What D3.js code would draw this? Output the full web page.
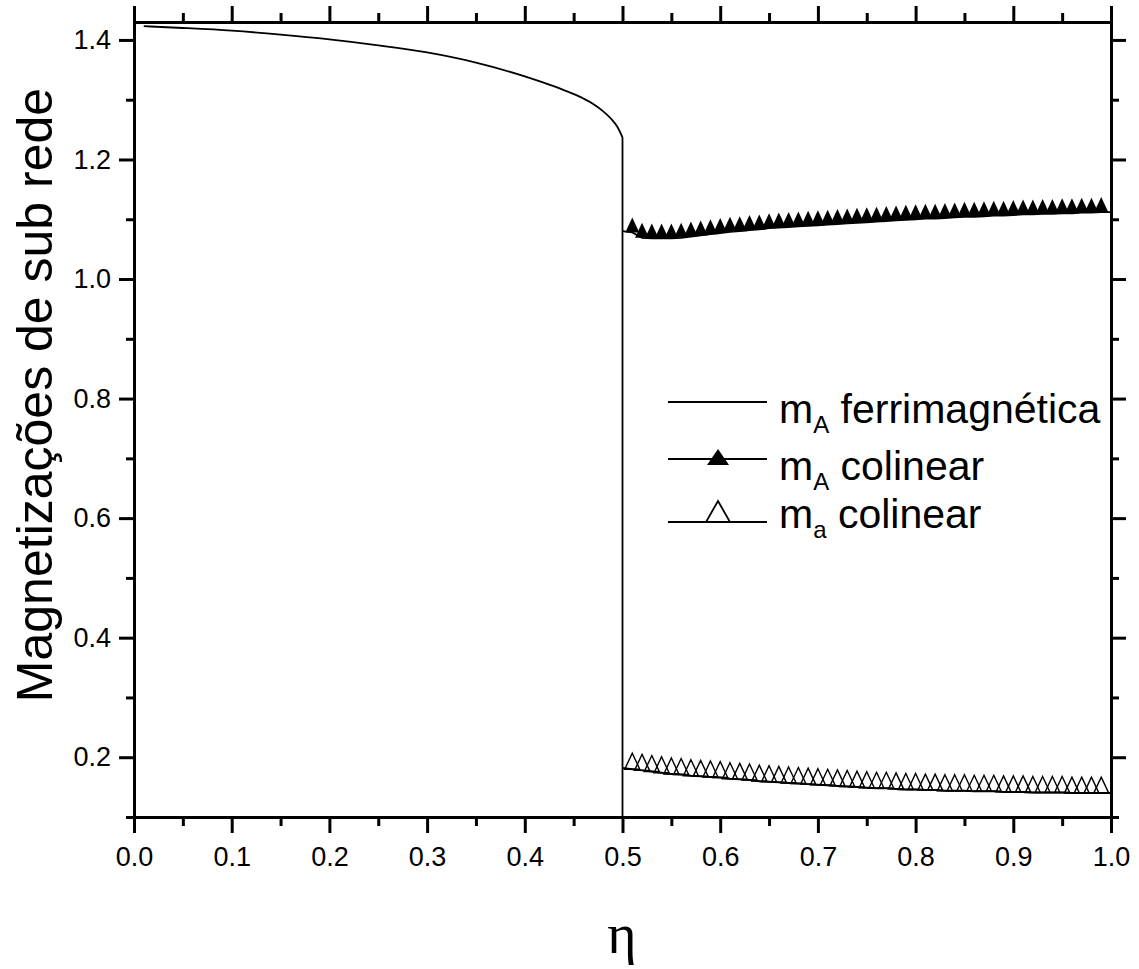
<!DOCTYPE html>
<html>
<head>
<meta charset="utf-8">
<script src="https://cdn.jsdelivr.net/npm/d3@7"></script>
<style>
  body { margin: 0; background: #fff; }
  text { font-family: Arial, "Liberation Sans", sans-serif; fill: #000; }
</style>
</head>
<body>
<svg width="1139" height="969"></svg>
<script>
// m_A ferrimagnetica (eta < 0.5), then it drops at eta = 0.5
let etaFerri = [0.01, 0.05, 0.1, 0.15, 0.2, 0.25, 0.3, 0.35, 0.4, 0.42, 0.44, 0.46, 0.47, 0.48, 0.49, 0.495, 0.5];
let mFerri = [1.423, 1.420, 1.4155, 1.409, 1.401, 1.391, 1.379, 1.362, 1.339, 1.328, 1.316, 1.302, 1.293, 1.281, 1.265, 1.254, 1.237];
let etaDrop = [0.5, 0.5];
let mDrop = [1.237, 0.0];

// collinear phase, eta = 0.50 ... 1.00 step 0.01
let etaCol = [0.50, 0.51, 0.52, 0.53, 0.54, 0.55, 0.56, 0.57, 0.58, 0.59, 0.60, 0.61, 0.62, 0.63, 0.64, 0.65, 0.66,
  0.67, 0.68, 0.69, 0.70, 0.71, 0.72, 0.73, 0.74, 0.75, 0.76, 0.77, 0.78, 0.79, 0.80, 0.81, 0.82, 0.83, 0.84,
  0.85, 0.86, 0.87, 0.88, 0.89, 0.90, 0.91, 0.92, 0.93, 0.94, 0.95, 0.96, 0.97, 0.98, 0.99, 1.00];
let mAcol = [1.080, 1.078, 1.069, 1.068, 1.068, 1.068, 1.069, 1.071, 1.073, 1.075, 1.077, 1.079, 1.080, 1.082, 1.083,
  1.085, 1.086, 1.087, 1.088, 1.089, 1.090, 1.091, 1.092, 1.093, 1.094, 1.095, 1.096, 1.097, 1.098, 1.099, 1.100,
  1.101, 1.101, 1.102, 1.103, 1.104, 1.104, 1.105, 1.106, 1.106, 1.107, 1.108, 1.108, 1.109, 1.109, 1.110, 1.110,
  1.111, 1.111, 1.112, 1.112];
let maCol = [0.182, 0.180, 0.178, 0.176, 0.174, 0.172, 0.171, 0.169, 0.168, 0.167, 0.166, 0.164, 0.163, 0.162, 0.160,
  0.159, 0.158, 0.157, 0.156, 0.155, 0.154, 0.153, 0.152, 0.151, 0.150, 0.149, 0.148, 0.148, 0.147, 0.146, 0.146,
  0.145, 0.145, 0.144, 0.144, 0.144, 0.143, 0.143, 0.143, 0.142, 0.142, 0.142, 0.141, 0.141, 0.141, 0.141, 0.140,
  0.140, 0.140, 0.140, 0.140];

let xMajor = [0, 0.1, 0.2, 0.3, 0.4, 0.5, 0.6, 0.7, 0.8, 0.9, 1.0];
let xMinor = [0.05, 0.15, 0.25, 0.35, 0.45, 0.55, 0.65, 0.75, 0.85, 0.95];
let yMajor = [0.2, 0.4, 0.6, 0.8, 1.0, 1.2, 1.4];
let yMinor = [0.1, 0.3, 0.5, 0.7, 0.9, 1.1, 1.3];

let svg = d3.select("svg"),
  pLeft = 134, pRight = 1111, pTop = 22, pBottom = 817;

let x = d3.scaleLinear().domain([0, 1]).range([pLeft, pRight]);
let y = d3.scaleLinear().domain([0.1, 1.43]).range([pBottom, pTop]);

// data
svg.append("clipPath").attr("id", "clip")
  .append("rect").attr("x", pLeft).attr("y", pTop).attr("width", pRight - pLeft).attr("height", pBottom - pTop);

let plot = svg.append("g").attr("clip-path", "url(#clip)");
let line = d3.line().x(d => x(d[0])).y(d => y(d[1]));
let smooth = d3.line().x(d => x(d[0])).y(d => y(d[1])).curve(d3.curveMonotoneX);

plot.append("path")
  .attr("d", smooth(d3.zip(etaFerri, mFerri)))
  .attr("fill", "none").attr("stroke", "#000").attr("stroke-width", 1.8);
plot.append("path")
  .attr("d", line(d3.zip(etaDrop, mDrop)))
  .attr("fill", "none").attr("stroke", "#000").attr("stroke-width", 1.8);

let tri = (w, h) => `M0,${-h}L${w / 2},0L${-w / 2},0Z`;

let colA = d3.zip(etaCol, mAcol), cola = d3.zip(etaCol, maCol);
plot.append("path").attr("d", line(colA))
  .attr("fill", "none").attr("stroke", "#000").attr("stroke-width", 1.8);
plot.append("path").attr("d", line(cola))
  .attr("fill", "none").attr("stroke", "#000").attr("stroke-width", 2);

let inner = d => d[0] > 0.505 && d[0] < 0.995;

plot.selectAll(".fill-tri").data(colA.filter(inner)).enter().append("path")
  .attr("class", "fill-tri")
  .attr("transform", d => `translate(${x(d[0])},${y(d[1])})`)
  .attr("d", tri(14, 15)).attr("fill", "#000");

plot.selectAll(".open-tri").data(cola.filter(inner)).enter().append("path")
  .attr("class", "open-tri")
  .attr("transform", d => `translate(${x(d[0])},${y(d[1])})`)
  .attr("d", tri(15, 16)).attr("fill", "none").attr("stroke", "#000").attr("stroke-width", 1.4);

// axes
function styleAxis(g) {
  g.select(".domain").attr("stroke-width", 3).attr("stroke-linecap", "square");
  g.selectAll(".tick line").attr("stroke-width", 3);
  g.selectAll("text").style("font-family", "Arial, 'Liberation Sans', sans-serif").style("font-size", "27px").attr("fill", "#000");
}

svg.append("g").attr("transform", `translate(0,${pBottom})`)
  .call(d3.axisBottom(x).tickValues(xMinor).tickSize(9).tickSizeOuter(0).tickFormat(""))
  .call(styleAxis);
svg.append("g").attr("transform", `translate(0,${pBottom})`)
  .call(d3.axisBottom(x).tickValues(xMajor).tickSize(16).tickSizeOuter(0).tickPadding(14).tickFormat(d3.format(".1f")))
  .call(styleAxis);

svg.append("g").attr("transform", `translate(0,${pTop})`)
  .call(d3.axisTop(x).tickValues(xMinor).tickSize(9).tickSizeOuter(0).tickFormat(""))
  .call(styleAxis);
svg.append("g").attr("transform", `translate(0,${pTop})`)
  .call(d3.axisTop(x).tickValues(xMajor).tickSize(16).tickSizeOuter(0).tickFormat(""))
  .call(styleAxis);

svg.append("g").attr("transform", `translate(${pLeft},0)`)
  .call(d3.axisLeft(y).tickValues(yMinor).tickSize(8).tickSizeOuter(0).tickFormat(""))
  .call(styleAxis);
svg.append("g").attr("transform", `translate(${pLeft},0)`)
  .call(d3.axisLeft(y).tickValues(yMajor).tickSize(15).tickSizeOuter(0).tickPadding(8).tickFormat(d3.format(".1f")))
  .call(styleAxis);

svg.append("g").attr("transform", `translate(${pRight},0)`)
  .call(d3.axisRight(y).tickValues(yMinor).tickSize(8).tickSizeOuter(0).tickFormat(""))
  .call(styleAxis);
svg.append("g").attr("transform", `translate(${pRight},0)`)
  .call(d3.axisRight(y).tickValues(yMajor).tickSize(15).tickSizeOuter(0).tickFormat(""))
  .call(styleAxis);

// axis titles
svg.append("text")
  .attr("transform", "translate(52,395) rotate(-90)")
  .attr("text-anchor", "middle")
  .style("font-size", "50px")
  .text("Magnetizações de sub rede");

svg.append("text")
  .attr("x", 622).attr("y", 953)
  .attr("text-anchor", "middle")
  .style("font-family", "'Liberation Serif', 'Times New Roman', serif")
  .style("font-size", "56px")
  .text("η");

// legend
let legend = [
  { sub: "A", label: " ferrimagnética", mark: null, ly: 402, ty: 423 },
  { sub: "A", label: " colinear", mark: "fill", ly: 459, ty: 480 },
  { sub: "a", label: " colinear", mark: "open", ly: 522, ty: 528 }
];

let lg = svg.append("g");
legend.forEach(d => {
  lg.append("line").attr("x1", 668).attr("x2", 767).attr("y1", d.ly).attr("y2", d.ly)
    .attr("stroke", "#000").attr("stroke-width", 1.8);
  if (d.mark === "fill") {
    lg.append("path").attr("transform", `translate(718,${d.ly + 6})`)
      .attr("d", tri(22, 16)).attr("fill", "#000");
  } else if (d.mark === "open") {
    lg.append("path").attr("transform", `translate(718,${d.ly})`)
      .attr("d", tri(24, 21)).attr("fill", "#fff").attr("stroke", "#000").attr("stroke-width", 1.8);
  }
  let t = lg.append("text").attr("x", 779).attr("y", d.ty).style("font-size", "41px");
  t.append("tspan").text("m");
  t.append("tspan").attr("dy", 10).style("font-size", "24px").text(d.sub);
  t.append("tspan").attr("dy", -10).text(d.label);
});
</script>
</body>
</html>
